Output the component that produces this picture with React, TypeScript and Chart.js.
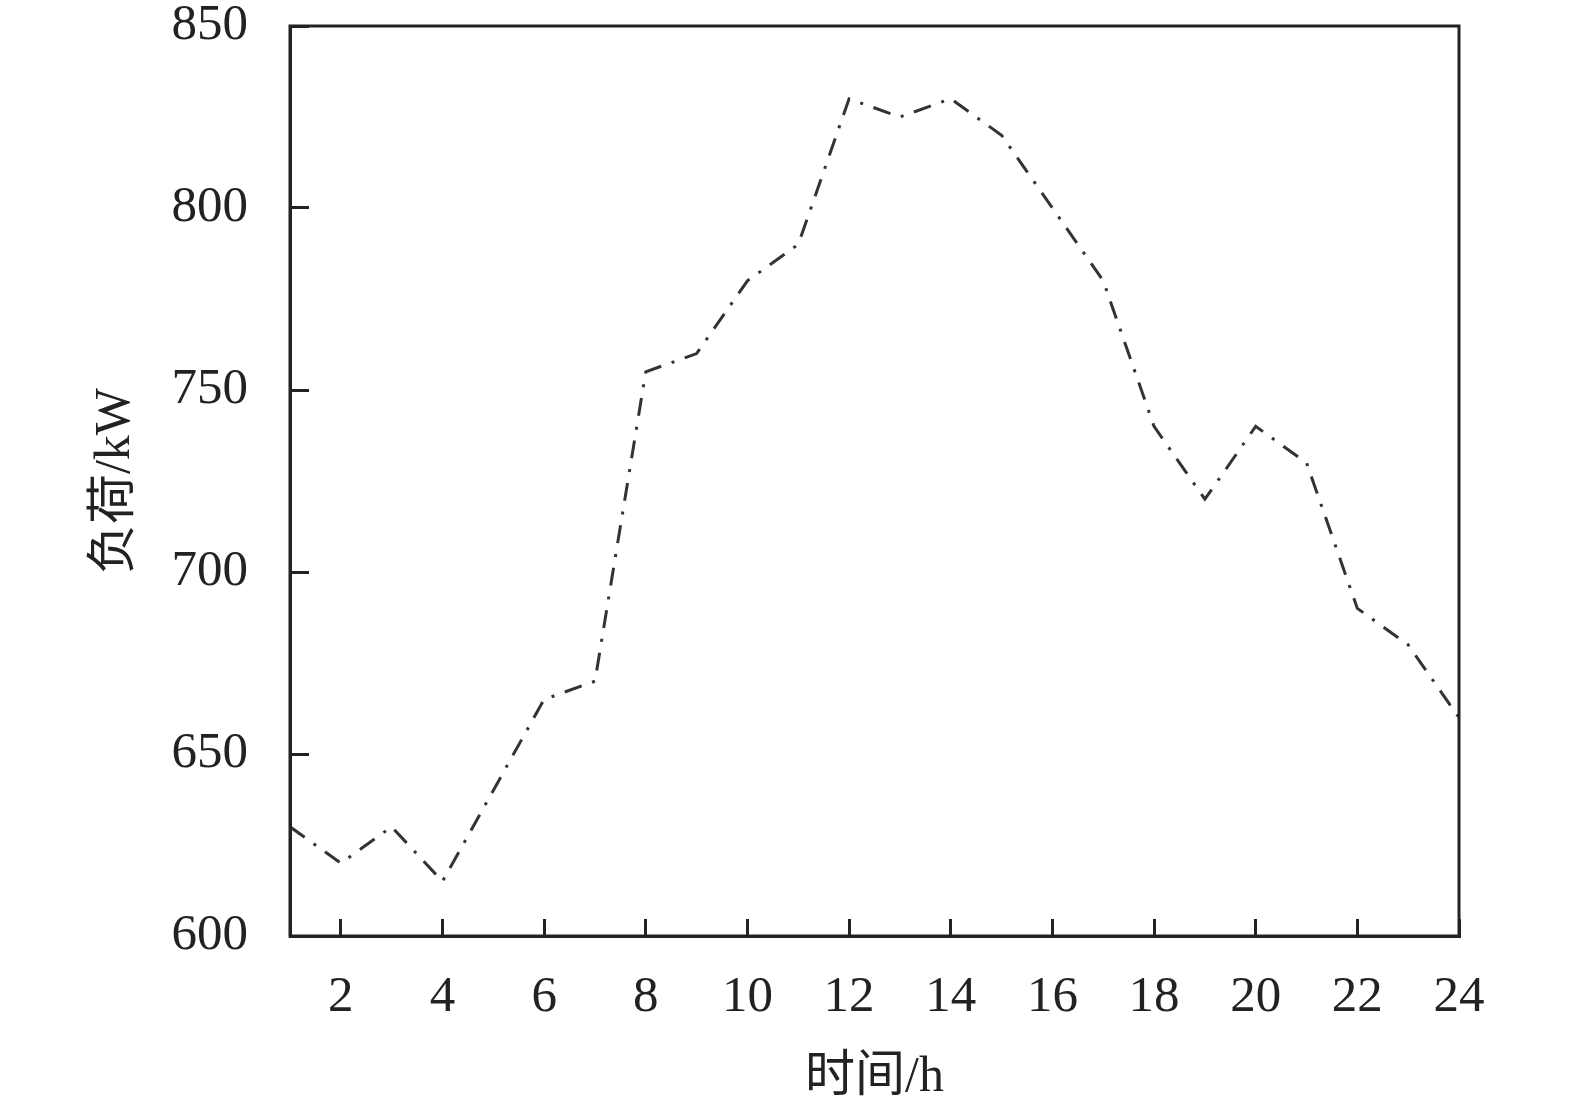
import React, { useEffect, useRef } from "react";
import { Chart, registerables } from "chart.js";

Chart.register(...registerables);

const hours = [1, 2, 3, 4, 5, 6, 7, 8, 9, 10, 11, 12, 13, 14, 15, 16, 17, 18, 19, 20, 21, 22, 23, 24];
const loadKW = [630, 620, 630, 615, 640, 665, 670, 755, 760, 780, 790, 830, 825, 830, 820, 800, 780, 740, 720, 740, 730, 690, 680, 660];
const xTicks = [2, 4, 6, 8, 10, 12, 14, 16, 18, 20, 22, 24];
const yTicks = [600, 650, 700, 750, 800, 850];

const FONT = '"Liberation Serif", "Times New Roman", "Noto Sans CJK SC", serif';
const INK = "#222222";

const frame = {
  id: "frame",
  afterDraw(chart: any) {
    const { ctx, chartArea } = chart;
    ctx.save();
    ctx.strokeStyle = INK;
    ctx.lineWidth = 3;
    ctx.strokeRect(chartArea.left, chartArea.top, chartArea.right - chartArea.left, chartArea.bottom - chartArea.top);
    ctx.restore();
  },
};

export default function App() {
  const ref = useRef<HTMLCanvasElement | null>(null);
  useEffect(() => {
    if (!ref.current) return;
    const chart = new Chart(ref.current, {
      type: "line",
      data: {
        datasets: [
          {
            data: hours.map((h, i) => ({ x: h, y: loadKW[i] })),
            borderColor: "#333333",
            borderWidth: 3,
            borderDash: [18, 11, 3, 11],
            pointRadius: 0,
            tension: 0,
            fill: false,
          },
        ],
      },
      options: {
        animation: false,
        responsive: false,
        layout: { padding: { top: 26, right: 116, left: 0, bottom: 0 } },
        plugins: { legend: { display: false }, tooltip: { enabled: false } },
        scales: {
          x: {
            type: "linear",
            min: 1,
            max: 24,
            afterBuildTicks: (s: any) => {
              s.ticks = xTicks.map((v) => ({ value: v }));
            },
            afterFit: (s: any) => {
              s.height = 168;
              s.paddingLeft = 0;
              s.paddingRight = 0;
            },
            grid: {
              drawOnChartArea: false,
              drawTicks: true,
              tickLength: -17,
              tickWidth: 3,
              tickColor: INK,
            },
            border: { display: true, color: INK, width: 3 },
            ticks: {
              color: INK,
              padding: 48,
              maxRotation: 0,
              autoSkip: false,
              font: { family: FONT, size: 51 },
            },
            title: {
              display: true,
              text: "时间/h",
              color: INK,
              padding: { top: 0, bottom: -4 },
              font: { family: FONT, size: 50 },
            },
          },
          y: {
            min: 600,
            max: 850,
            afterBuildTicks: (s: any) => {
              s.ticks = yTicks.map((v) => ({ value: v }));
            },
            afterFit: (s: any) => {
              s.width = 290;
              s.paddingTop = 0;
              s.paddingBottom = 0;
            },
            grid: {
              drawOnChartArea: false,
              drawTicks: true,
              tickLength: -19,
              tickWidth: 3,
              tickColor: INK,
            },
            border: { display: true, color: INK, width: 3 },
            ticks: {
              color: INK,
              padding: 61,
              font: { family: FONT, size: 51 },
            },
            title: {
              display: true,
              text: "负荷/kW",
              color: INK,
              padding: { top: 86, bottom: 0 },
              font: { family: FONT, size: 50 },
            },
          },
        },
      },
      plugins: [frame],
    });
    return () => chart.destroy();
  }, []);
  return (
    <canvas
      ref={ref}
      width={1575}
      height={1104}
      style={{ position: "absolute", left: 0, top: 0, display: "block", background: "#fff" }}
    />
  );
}
